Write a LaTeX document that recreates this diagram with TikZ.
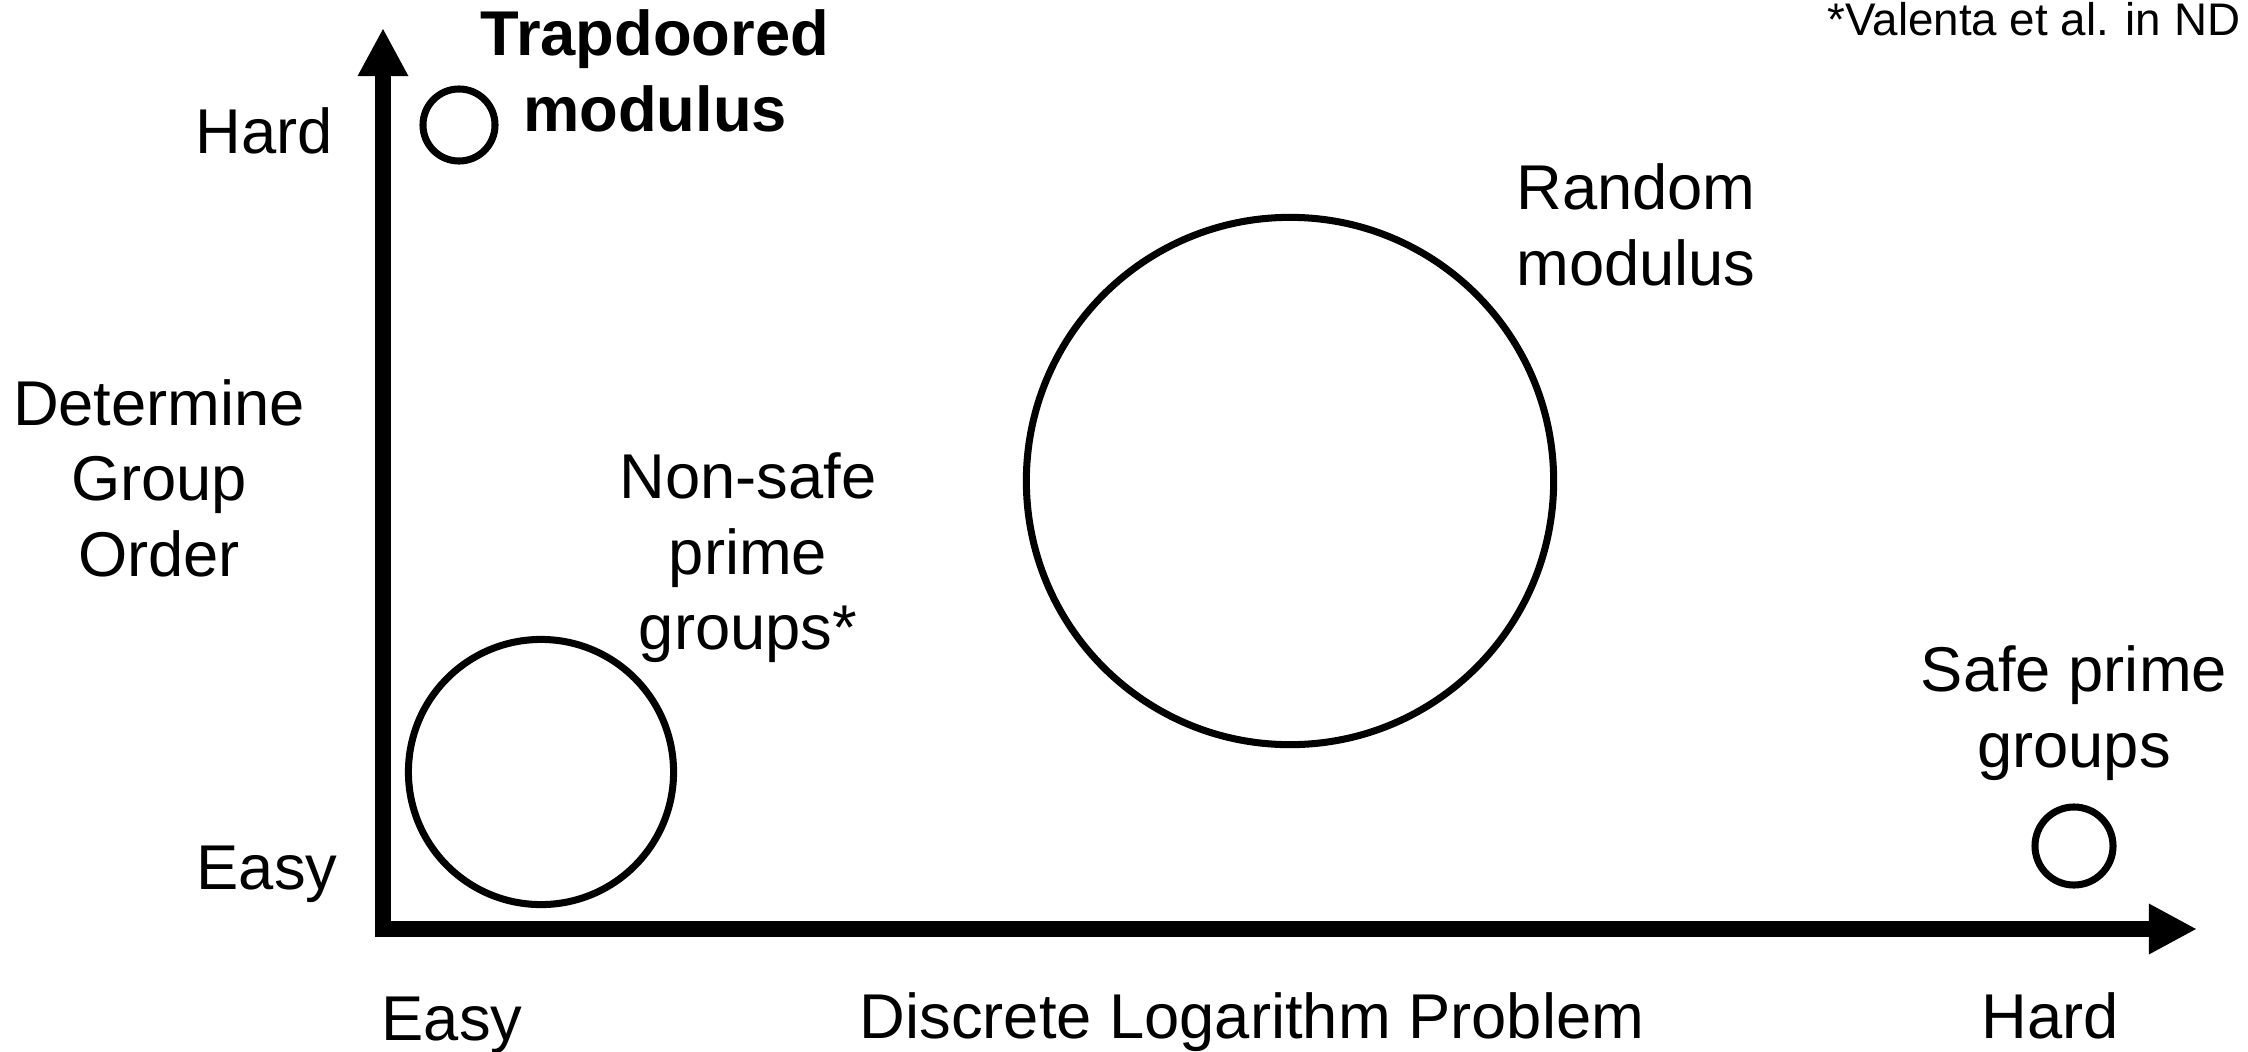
\documentclass[tikz,border=0pt]{standalone}
\usepackage{fontspec}
\setmainfont{Liberation Sans}
\usetikzlibrary{arrows.meta}

\tikzstyle{region} = [circle, draw=black, line width=2pt, inner sep=0pt]
\tikzstyle{caption} = [align=center, inner sep=0pt, font=\fontsize{18}{21.5}\selectfont]
\tikzstyle{axisarrow} = [line width=4.5pt, line join=miter, {Triangle[length=0.48cm,width=0.47cm]}-{Triangle[length=0.48cm,width=0.47cm]}]

\begin{document}
\begin{tikzpicture}[x=0.01cm, y=-0.01cm]
	\useasboundingbox (0,0) rectangle (2248,1051);
	% Axes
	\coordinate (origin) at (383,929);
	\coordinate (ytop) at (383,28);
	\coordinate (xend) at (2197,929);
	\draw [axisarrow] (ytop) -- (origin) -- (xend);
	% Axis labels
	\node [caption, anchor=base] (hardY) at (264,153) {Hard};
	\node [caption, anchor=base] (easyY) at (267,889) {Easy};
	\node [caption] (groupOrder) at (159,478) {Determine\\Group\\Order};
	\node [caption, anchor=base] (easyX) at (452,1040) {Easy};
	\node [caption, anchor=base] (dlp) at (1252,1038) {Discrete Logarithm Problem};
	\node [caption, anchor=base] (hardX) at (2050,1038) {Hard};
	% Place regions
	\node [region, minimum size=0.72cm] (trapdoor) at (459,125) {};
	\node [caption, font=\fontsize{18}{21.5}\selectfont\bfseries] (trapdoorText) at (655,71) {Trapdoored\\modulus};
	\node [region, minimum size=5.27cm] (random) at (1290,481) {};
	\node [caption] (randomText) at (1636,225) {Random\\modulus};
	\node [region, minimum size=2.65cm] (nonsafe) at (541,772) {};
	\node [caption] (nonsafeText) at (748,558) {Non-safe\\prime\\groups*};
	\node [region, minimum size=0.78cm] (safe) at (2074,846) {};
	\node [caption] (safeText) at (2074,713) {Safe prime\\groups};
	% Reference note
	\node [anchor=base west, inner sep=0pt, font=\fontsize{13}{15}\selectfont] (citation) at (1827,35) {*Valenta et al. in ND};
\end{tikzpicture}
\end{document}
